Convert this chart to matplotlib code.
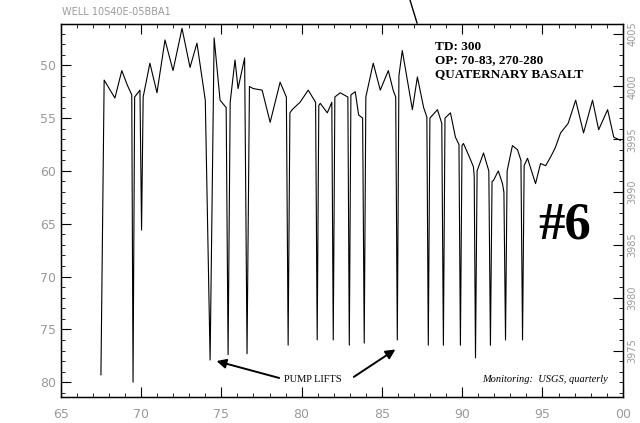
import matplotlib
matplotlib.use("Agg")
import matplotlib.pyplot as plt
from matplotlib.ticker import MultipleLocator
from matplotlib.lines import Line2D

# depth-to-water readings read off the hydrograph (ft below land surface)
# the deep, narrow drops are readings taken while the pump was running
years = [1967.5, 1967.7, 1968.37, 1968.8, 1969.15, 1969.42, 1969.5, 1969.6,
         1969.93, 1970.03, 1970.13, 1970.55, 1970.99, 1971.49, 1971.99, 1972.55,
         1973.05, 1973.48, 1974.0, 1974.3, 1974.55, 1974.92, 1975.3, 1975.42,
         1975.55, 1975.85, 1976.04, 1976.45, 1976.6, 1976.75, 1976.98, 1977.54,
         1978.04, 1978.66, 1979.05, 1979.16, 1979.27, 1979.41, 1979.9, 1980.41,
         1980.87, 1980.97, 1981.07, 1981.16, 1981.6, 1981.88, 1981.97, 1982.07,
         1982.4, 1982.88, 1982.97, 1983.07, 1983.34, 1983.55, 1983.8, 1983.9,
         1984.0, 1984.46, 1984.9, 1985.4, 1985.7, 1985.86, 1985.96, 1986.06,
         1986.27, 1986.9, 1987.21, 1987.6, 1987.8, 1987.89, 1987.99, 1988.46,
         1988.73, 1988.83, 1988.93, 1989.27, 1989.58, 1989.8, 1989.89, 1989.99,
         1990.08, 1990.4, 1990.7, 1990.75, 1990.83, 1990.93, 1991.33, 1991.66,
         1991.76, 1991.86, 1991.95, 1992.25, 1992.51, 1992.6, 1992.7, 1992.8,
         1993.13, 1993.45, 1993.66, 1993.76, 1993.86, 1994.07, 1994.57, 1994.88,
         1995.2, 1995.5, 1995.8, 1996.13, 1996.6, 1997.07, 1997.56, 1998.12,
         1998.5, 1999.06, 1999.44, 1999.85]
depth_ft = [79.3, 51.4, 53.1, 50.5, 51.9, 52.8, 80.0, 53.0,
            52.35, 65.6, 53.0, 49.8, 52.6, 47.6, 50.5, 46.5,
            50.2, 47.9, 53.3, 77.9, 47.4, 53.3, 54.0, 77.4,
            53.5, 49.5, 52.2, 49.3, 77.3, 52.0, 52.2, 52.35,
            55.4, 51.6, 53.0, 76.5, 54.5, 54.2, 53.5, 52.35,
            53.5, 76.0, 53.8, 53.6, 54.5, 53.5, 76.0, 53.0,
            52.6, 53.0, 76.5, 52.8, 52.5, 54.7, 55.0, 76.3,
            53.0, 49.8, 52.35, 50.5, 52.35, 53.0, 76.0, 51.0,
            48.6, 54.2, 51.1, 54.0, 54.9, 76.5, 55.0, 54.2,
            55.5, 76.5, 55.0, 54.5, 56.8, 57.5, 76.5, 57.6,
            57.4, 58.5, 59.6, 60.5, 77.7, 60.0, 58.3, 60.0,
            76.5, 61.0, 60.9, 60.0, 61.2, 62.0, 76.0, 60.0,
            57.6, 58.0, 59.0, 76.0, 59.5, 58.8, 61.2, 59.3,
            59.5, 58.7, 57.8, 56.4, 55.5, 53.3, 56.4, 53.3,
            56.1, 54.2, 56.8, 57.1]

x_ticks = [1965, 1970, 1975, 1980, 1985, 1990, 1995, 2000]
x_labels = ["65", "70", "75", "80", "85", "90", "95", "00"]
y_ticks = [50, 55, 60, 65, 70, 75, 80]
land_elev = 4052
elev_ticks = [4005, 4000, 3995, 3990, 3985, 3980, 3975]

serif = "Liberation Serif"
faint = "#9a9a9a"

fig = plt.figure(figsize=(6.4, 4.23), dpi=100)
ax = fig.add_axes([0.095, 0.0615, 0.878, 0.8815])

ax.plot(years, depth_ft, color="black", lw=0.8)

ax.set_xlim(1965, 2000)
ax.set_ylim(81.4, 46.1)
ax.set_xticks(x_ticks)
ax.set_xticklabels(x_labels)
ax.xaxis.set_minor_locator(MultipleLocator(1))
ax.set_yticks(y_ticks)
ax.yaxis.set_minor_locator(MultipleLocator(1))
ax.tick_params(which="both", direction="in", top=True, right=False,
               colors="black", labelcolor=faint, labelsize=9)
ax.tick_params(which="major", length=7, width=0.8)
ax.tick_params(which="minor", length=3, width=0.6)
ax.tick_params(axis="x", pad=8)
for s in ax.spines.values():
    s.set_linewidth(1.0)

# elevation axis on the right
ax2 = ax.twinx()
ax2.set_ylim(land_elev - 81.4, land_elev - 46.1)
ax2.set_yticks(elev_ticks)
ax2.yaxis.set_minor_locator(MultipleLocator(1))
ax2.tick_params(which="both", direction="in", labelcolor=faint, labelsize=7)
ax2.tick_params(which="major", length=7)
ax2.tick_params(which="minor", length=3)
for lab in ax2.get_yticklabels():
    lab.set_rotation(90)
    lab.set_va("center")

fig.text(0.097, 0.972, "WELL 10S40E-05BBA1", color=faint, fontsize=7, va="center")
fig.add_artist(Line2D([0.6406, 0.6516], [1.0, 0.9456], color="black", lw=1.0))

ax.text(1988.33, 47.7, "TD: 300\nOP: 70-83, 270-280\nQUATERNARY BASALT",
        family=serif, fontweight="bold", fontsize=9.5, va="top", ha="left",
        linespacing=1.15)
ax.text(1996.4, 65.2, "#6", family=serif, fontweight="bold", fontsize=38,
        ha="center", va="center")
ax.text(1980.72, 79.75, "PUMP LIFTS", family=serif, fontsize=7.5,
        ha="center", va="center")
ax.annotate("", xy=(1974.7, 78.0), xytext=(1978.6, 79.6),
            arrowprops=dict(arrowstyle="-|>", color="black", lw=1.4,
                            mutation_scale=14, shrinkA=0, shrinkB=0))
ax.annotate("", xy=(1985.84, 76.9), xytext=(1983.25, 79.5),
            arrowprops=dict(arrowstyle="-|>", color="black", lw=1.4,
                            mutation_scale=14, shrinkA=0, shrinkB=0))
ax.text(1999.1, 79.75, "Monitoring:  USGS, quarterly", family=serif,
        style="italic", fontsize=7.5, ha="right", va="center")

fig.savefig("out.png", dpi=100)
